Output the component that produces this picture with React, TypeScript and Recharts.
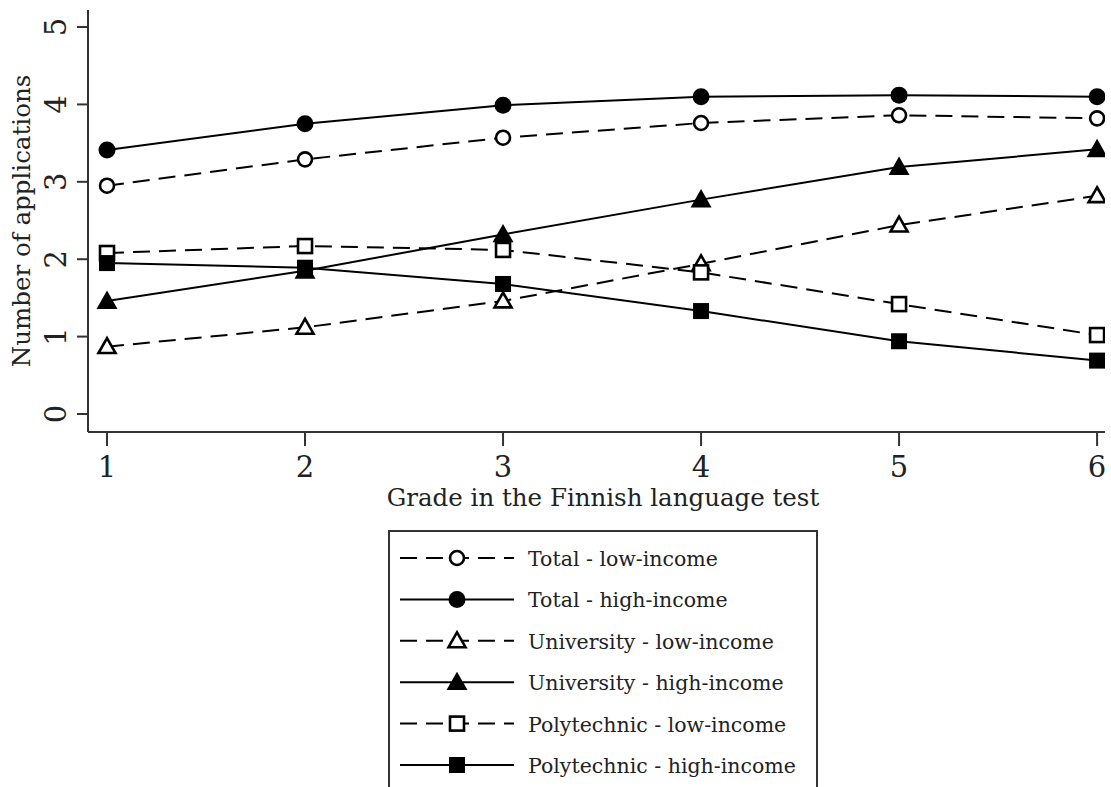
import React from 'react';
import { LineChart, Line, XAxis, YAxis } from 'recharts';

const grades = [1, 2, 3, 4, 5, 6];
const totalLow = [2.95, 3.29, 3.57, 3.76, 3.86, 3.82];
const totalHigh = [3.41, 3.75, 3.99, 4.1, 4.12, 4.1];
const uniLow = [0.87, 1.12, 1.46, 1.94, 2.44, 2.82];
const uniHigh = [1.46, 1.85, 2.32, 2.77, 3.19, 3.42];
const polyLow = [2.08, 2.17, 2.12, 1.83, 1.42, 1.02];
const polyHigh = [1.95, 1.89, 1.68, 1.33, 0.94, 0.69];

const xTicks = [1, 2, 3, 4, 5, 6];
const yTicks = [0, 1, 2, 3, 4, 5];

const FONT = '"DejaVu Serif", serif';
const DASH = '17 9';

const data = grades.map((g, i) => ({
  grade: g,
  totalLow: totalLow[i],
  totalHigh: totalHigh[i],
  uniLow: uniLow[i],
  uniHigh: uniHigh[i],
  polyLow: polyLow[i],
  polyHigh: polyHigh[i],
}));

type Shape = 'circle' | 'triangle' | 'square';

interface SeriesDef {
  key: string;
  name: string;
  shape: Shape;
  filled: boolean;
}

const series: SeriesDef[] = [
  { key: 'totalLow', name: 'Total - low-income', shape: 'circle', filled: false },
  { key: 'totalHigh', name: 'Total - high-income', shape: 'circle', filled: true },
  { key: 'uniLow', name: 'University - low-income', shape: 'triangle', filled: false },
  { key: 'uniHigh', name: 'University - high-income', shape: 'triangle', filled: true },
  { key: 'polyLow', name: 'Polytechnic - low-income', shape: 'square', filled: false },
  { key: 'polyHigh', name: 'Polytechnic - high-income', shape: 'square', filled: true },
];

// draws a stata-like marker centred on cx, cy
function Marker({ cx, cy, shape, filled }: { cx: number; cy: number; shape: Shape; filled: boolean }) {
  const fill = filled ? '#000' : '#fff';
  const sw = filled ? 0 : 2.6;
  if (shape === 'circle') {
    return <circle cx={cx} cy={cy} r={filled ? 8.5 : 7} fill={fill} stroke="#000" strokeWidth={sw} />;
  }
  if (shape === 'triangle') {
    const s = filled ? 10.5 : 8.5;
    const pts = `${cx},${cy - s} ${cx + s},${cy + s * 0.75} ${cx - s},${cy + s * 0.75}`;
    return <polygon points={pts} fill={fill} stroke="#000" strokeWidth={sw} strokeLinejoin="miter" />;
  }
  const s = filled ? 8 : 7;
  return <rect x={cx - s} y={cy - s} width={s * 2} height={s * 2} fill={fill} stroke="#000" strokeWidth={sw} />;
}

function YTick({ x, y, payload }: any) {
  return (
    <text
      x={x - 9}
      y={y}
      transform={`rotate(-90, ${x - 9}, ${y})`}
      textAnchor="middle"
      fontFamily={FONT}
      fontSize={29}
      fill="#222"
    >
      {payload.value}
    </text>
  );
}

function XTick({ x, y, payload }: any) {
  return (
    <text x={x} y={y + 29} textAnchor="middle" fontFamily={FONT} fontSize={29} fill="#222">
      {payload.value}
    </text>
  );
}

function LegendBox() {
  return (
    <div
      style={{
        position: 'absolute',
        left: 388,
        top: 530,
        width: 430,
        height: 270,
        border: '2px solid #333',
        boxSizing: 'border-box',
        background: '#fff',
      }}
    >
      <svg width={428} height={268}>
        {series.map((s, i) => {
          const cy = 26 + i * 41.4;
          return (
            <g key={s.key}>
              <line
                x1={10}
                x2={124}
                y1={cy}
                y2={cy}
                stroke="#000"
                strokeWidth={2}
                strokeDasharray={s.filled ? undefined : DASH}
              />
              <Marker cx={67} cy={cy} shape={s.shape} filled={s.filled} />
              <text x={138} y={cy + 8} fontFamily={FONT} fontSize={20.5} fill="#222">
                {s.name}
              </text>
            </g>
          );
        })}
      </svg>
    </div>
  );
}

export default function App() {
  return (
    <div style={{ position: 'absolute', left: 0, top: 0, width: 1111, height: 787, background: '#fff', overflow: 'hidden' }}>
      <LineChart width={1111} height={787} data={data} margin={{ top: 10, right: 6, left: 0, bottom: 265 }}>
        <XAxis
          dataKey="grade"
          type="number"
          domain={[0.904, 6.04]}
          ticks={xTicks}
          tick={<XTick />}
          tickSize={14}
          stroke="#333"
          strokeWidth={2}
          height={90}
          allowDataOverflow
          label={{
            content: () => (
              <text x={603} y={506} textAnchor="middle" fontFamily={FONT} fontSize={24.5} fill="#222">
                Grade in the Finnish language test
              </text>
            ),
          }}
        />
        <YAxis
          type="number"
          domain={[-0.2326, 5.22]}
          ticks={yTicks}
          tick={<YTick />}
          tickSize={11}
          stroke="#333"
          strokeWidth={2}
          width={88}
          allowDataOverflow
          label={{
            content: () => (
              <text
                transform="translate(30, 221) rotate(-90)"
                textAnchor="middle"
                fontFamily={FONT}
                fontSize={24.5}
                fill="#222"
              >
                Number of applications
              </text>
            ),
          }}
        />
        {series.map((s) => (
          <Line
            key={s.key}
            dataKey={s.key}
            name={s.name}
            type="linear"
            stroke="#000"
            strokeWidth={2}
            strokeDasharray={s.filled ? undefined : DASH}
            isAnimationActive={false}
            dot={(p: any) => <Marker key={`${s.key}-${p.index}`} cx={p.cx} cy={p.cy} shape={s.shape} filled={s.filled} />}
            activeDot={false}
          />
        ))}
      </LineChart>
      <LegendBox />
    </div>
  );
}
